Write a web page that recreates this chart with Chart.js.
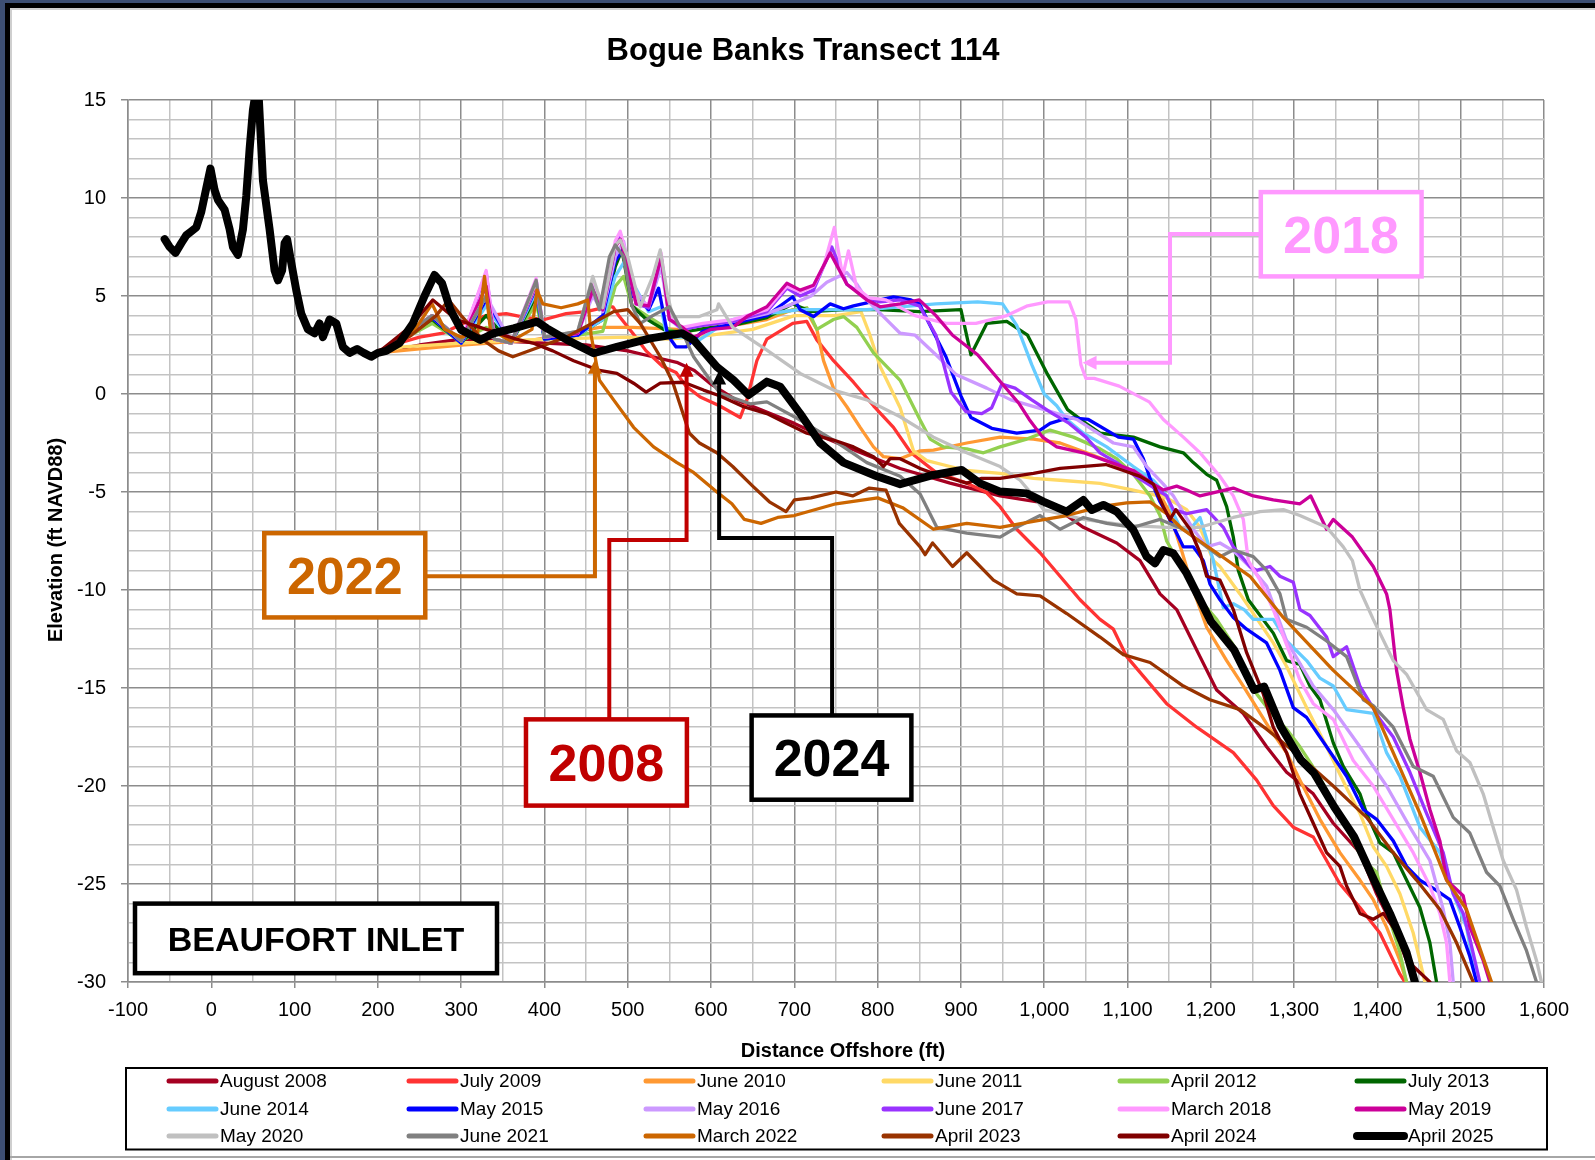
<!DOCTYPE html>
<html>
<head>
<meta charset="utf-8">
<title>Bogue Banks Transect 114</title>
<script src="https://cdn.jsdelivr.net/npm/chart.js@4.4.1/dist/chart.umd.min.js"></script>
<style>
  html, body { margin: 0; padding: 0; background: #fff; }
  #wrap { position: relative; width: 1595px; height: 1160px; overflow: hidden; background: #fff; }
  #wrap canvas { position: absolute; left: 0; top: 0; }
  .edge { position: absolute; }
</style>
</head>
<body>
<div id="wrap">
  <canvas id="profile" width="1595" height="1160"></canvas>
  <div class="edge" style="left:0;top:0;width:1595px;height:3px;background:#3d4f73"></div>
  <div class="edge" style="left:0;top:0;width:5px;height:1160px;background:#3d4f73"></div>
  <div class="edge" style="left:5px;top:3px;width:1590px;height:5px;background:#000"></div>
  <div class="edge" style="left:5px;top:3px;width:5px;height:1157px;background:#000"></div>
  <div class="edge" style="left:10px;top:8px;width:1585px;height:2px;background:#cfcfcf"></div>
  <div class="edge" style="left:10px;top:8px;width:2px;height:1152px;background:#cfcfcf"></div>
  <div class="edge" style="left:10px;top:1156px;width:1585px;height:2px;background:#a6a6a6"></div>
</div>
<script>
// Survey legend names and line colours
const surveyNames = ['August 2008', 'July 2009', 'June 2010', 'June 2011', 'April 2012', 'July 2013',
  'June 2014', 'May 2015', 'May 2016', 'June 2017', 'March 2018', 'May 2019',
  'May 2020', 'June 2021', 'March 2022', 'April 2023', 'April 2024', 'April 2025'];
const surveyColors = ['#A50021', '#FF3333', '#FF9933', '#FFD966', '#92D050', '#006600',
  '#66CCFF', '#0000FF', '#CC99FF', '#9933FF', '#FF99FF', '#CC0099',
  '#C0C0C0', '#808080', '#CC6600', '#993300', '#800000', '#000000'];

// Landward dune section, identical in every survey: [distance ft, elevation ft]
const dune = [[-56,7.9],[-50,7.5],[-43,7.2],[-36,7.7],[-30,8.1],[-24,8.3],[-18,8.5],[-12,9.3],[-6,10.5],[-1,11.5],
  [4,10.4],[8,9.9],[16,9.4],[22,8.4],[26,7.5],[32,7.1],[38,8.4],[42,10.1],[46,12.5],[50,14.5],[53,15.3],[57,15.1],
  [62,10.9],[70,8.4],[76,6.3],[80,5.8],[85,6.3],[88,7.7],[91,7.9],[96,6.7],[102,5.3],[108,4.1],[116,3.3],[124,3.1],
  [130,3.6],[134,2.9],[142,3.8],[150,3.6],[158,2.4],[166,2.1],[175,2.3],[183,2.1],[192,1.9]];

// Seaward part of each survey
const aug2008 = [[200,2.1],[250,2.5],[300,2.8],[350,2.7],[400,2.6],[450,2.5],[500,2.2],[530,1.9],[560,1.6],[580,1.2],
  [600,0.5],[630,-0.3],[660,-0.8],[700,-1.5],[740,-2.3],[780,-3.0],[827,-3.8],[887,-4.55],[947,-5.2],[1007,-5.6],
  [1047,-6.8],[1087,-7.6],[1115,-8.5],[1139,-10.2],[1159,-11],[1187,-13.4],[1207,-15.1],[1239,-16.3],[1267,-18],
  [1291,-19.3],[1323,-20.4],[1347,-21.9],[1379,-23.4],[1399,-25.5],[1419,-27.2],[1435,-28.9],[1447,-30]];
const jul2009 = [[200,2.2],[226,2.6],[250,2.9],[278,3.1],[302,3.6],[330,4.0],[354,4.1],[378,3.9],[400,3.8],[426,4.1],
  [450,4.2],[475,4.45],[482,4.45],[490,3.95],[506,3.1],[522,2.2],[542,1.4],[558,1.1],[570,0.4],[587,-0.15],[610,-0.6],
  [635,-1.2],[643,-0.3],[655,1.7],[667,2.8],[698,3.6],[715,3.7],[727,2.76],[747,1.7],[771,0.6],[795,-0.6],[819,-1.7],
  [840,-3.0],[870,-4.0],[907,-4.55],[930,-5.0],[947,-5.75],[967,-6.9],[995,-8.1],[1019,-9.3],[1043,-10.5],[1067,-11.5],
  [1083,-12],[1099,-13.4],[1147,-15.8],[1183,-17],[1227,-18.3],[1255,-19.7],[1275,-21],[1299,-22.1],[1323,-22.6],
  [1355,-25],[1379,-26.2],[1403,-27.5],[1427,-29.6],[1433,-30]];
const jun2010 = [[200,2.1],[250,2.3],[300,2.5],[386,2.75],[466,3.4],[506,3.4],[560,3.3],[626,3.5],[667,3.8],[698,4.3],
  [715,4.2],[727,3.3],[735,1.7],[747,0.3],[763,-0.65],[779,-1.7],[795,-2.7],[807,-3.2],[827,-3.3],[851,-2.9],[867,-2.86],
  [907,-2.5],[947,-2.2],[987,-2.3],[1019,-2.5],[1051,-3.0],[1075,-3.4],[1107,-4.05],[1131,-4.5],[1150,-6.0],[1165,-8.0],
  [1179,-10],[1195,-11.9],[1219,-13.6],[1239,-14.9],[1255,-16],[1271,-17.1],[1291,-18.3],[1307,-19.7],[1331,-21.7],
  [1355,-23.4],[1379,-24.8],[1395,-25.8],[1411,-27.2],[1427,-28.9],[1435,-30]];
const jun2011 = [[200,2.1],[230,2.4],[300,2.6],[400,2.8],[500,2.9],[550,2.8],[600,3.0],[650,3.3],[700,4.0],[750,4.0],
  [780,4.2],[790,3.1],[803,1.4],[819,0.0],[827,-0.7],[843,-2.9],[859,-3.4],[887,-3.7],[907,-3.9],[947,-4.05],[987,-4.3],
  [1019,-4.4],[1067,-4.56],[1107,-4.9],[1127,-5.1],[1147,-5.3],[1171,-5.9],[1187,-6.8],[1203,-8.5],[1211,-8.8],[1235,-10.2],
  [1275,-12.7],[1291,-13.9],[1315,-16.0],[1339,-18.0],[1363,-20.1],[1379,-21.4],[1395,-23.1],[1411,-24.1],[1427,-25.5],
  [1443,-27.5],[1451,-28.9],[1457,-30]];
const apr2012 = [[200,2.1],[265,3.6],[300,2.7],[330,3.4],[360,2.7],[390,4.6],[400,2.9],[440,3.0],[470,3.2],[485,5.5],
  [495,6.0],[505,4.5],[530,3.8],[545,3.4],[560,3.1],[600,3.4],[650,3.8],[700,4.3],[715,4.4],[727,3.3],[747,3.8],[759,3.95],
  [775,3.4],[795,2.1],[811,1.4],[827,0.7],[851,-1.33],[863,-2.3],[879,-2.7],[907,-2.8],[927,-3.0],[947,-2.7],[979,-2.3],
  [1007,-1.84],[1035,-2.2],[1067,-2.8],[1087,-3.3],[1107,-4.1],[1127,-5.2],[1139,-6.2],[1147,-7.5],[1163,-8.7],[1175,-9.5],
  [1187,-10.5],[1207,-11.5],[1230,-13],[1255,-15.3],[1275,-16.4],[1291,-17.1],[1307,-18.0],[1330,-19.5],[1355,-21.5],
  [1383,-23.8],[1399,-24.4],[1411,-26.3],[1427,-28.5],[1435,-30]];
const jul2013 = [[200,2.1],[265,3.8],[300,2.6],[330,4.0],[360,2.6],[390,5.0],[400,2.8],[440,3.0],[470,3.8],[485,6.5],
  [493,7.35],[505,4.5],[520,3.9],[531,3.6],[547,3.2],[570,3.2],[600,3.4],[626,3.5],[667,3.9],[698,4.6],[720,4.2],[760,4.3],
  [800,4.3],[850,4.2],[900,4.3],[912,2.0],[931,3.6],[955,3.7],[980,3.0],[1004,1.0],[1028,-0.8],[1050,-1.5],[1067,-2.0],
  [1107,-2.2],[1139,-2.7],[1167,-3.0],[1179,-3.5],[1195,-4.1],[1207,-4.4],[1219,-5.75],[1227,-7.3],[1233,-9.0],[1245,-10.5],
  [1275,-12.2],[1291,-13.6],[1307,-13.8],[1319,-14.9],[1331,-15.6],[1347,-17.8],[1359,-19.0],[1379,-20.4],[1387,-21.4],
  [1403,-22.9],[1419,-23.4],[1435,-24.8],[1451,-26.2],[1463,-28.0],[1471,-30]];
const jun2014 = [[200,2.1],[265,3.9],[300,2.6],[330,4.5],[360,2.6],[390,5.2],[400,2.8],[440,3.0],[470,3.8],[485,6.0],
  [498,6.9],[507,5.6],[525,4.2],[540,4.45],[547,2.9],[570,2.9],[586,2.76],[605,3.3],[626,3.8],[667,4.1],[707,4.3],[747,4.3],
  [787,4.3],[827,4.45],[870,4.6],[920,4.7],[950,4.6],[967,3.5],[985,1.5],[1000,0.0],[1015,-0.6],[1027,-1.3],[1047,-2.0],
  [1075,-2.7],[1107,-3.7],[1131,-4.4],[1147,-5.2],[1155,-6.1],[1163,-6.8],[1175,-6.9],[1187,-6.3],[1203,-8.5],[1215,-10.9],
  [1227,-10.7],[1240,-11.0],[1251,-11.5],[1275,-11.5],[1291,-12.6],[1315,-13.6],[1331,-14.5],[1347,-14.9],[1363,-16.1],
  [1395,-16.3],[1411,-18.3],[1427,-19.5],[1451,-22.1],[1475,-23.4],[1491,-25.5],[1507,-27.2],[1519,-30]];
const may2015 = [[200,2.1],[265,3.9],[300,2.6],[330,4.8],[360,2.6],[390,5.4],[400,2.8],[440,3.0],[470,4.0],[485,6.8],
  [495,7.4],[505,5.0],[515,4.8],[525,4.3],[537,5.4],[548,3.0],[558,2.4],[570,2.4],[590,3.2],[626,3.6],[667,4.0],[698,4.96],
  [707,4.3],[723,3.95],[743,4.6],[759,4.35],[771,4.5],[803,4.8],[819,4.96],[840,4.8],[850,4.6],[863,3.5],[882,1.9],
  [900,-0.1],[912,-1.2],[937,-1.75],[967,-2.0],[995,-1.84],[1007,-1.5],[1030,-1.2],[1053,-1.3],[1089,-2.2],[1107,-2.3],
  [1119,-3.3],[1127,-4.3],[1139,-5.5],[1147,-6.1],[1159,-7.1],[1167,-7.8],[1179,-7.8],[1191,-8.5],[1199,-9.7],[1211,-10.5],
  [1227,-11.4],[1243,-12],[1267,-12.7],[1283,-14.1],[1299,-16.0],[1315,-16.5],[1339,-18],[1363,-19.5],[1383,-21.2],
  [1399,-21.7],[1419,-22.8],[1435,-24.1],[1451,-24.8],[1470,-25.3],[1487,-25.8],[1499,-27.2],[1511,-28.7],[1519,-30]];
const may2016 = [[200,2.1],[265,4.0],[300,2.7],[330,5.0],[360,2.6],[390,5.5],[400,2.9],[440,3.1],[458,5.0],[470,4.2],
  [485,7.0],[495,7.8],[505,5.5],[525,4.4],[540,6.5],[550,3.8],[565,3.3],[590,3.5],[626,3.7],[667,4.1],[698,4.6],[720,5.0],
  [739,5.7],[763,6.2],[775,5.6],[787,4.8],[807,3.95],[827,3.1],[845,3.0],[870,2.0],[894,1.0],[931,0.3],[960,-0.3],
  [1000,-0.8],[1039,-1.3],[1083,-2.5],[1107,-2.7],[1123,-3.7],[1143,-4.6],[1155,-5.2],[1179,-6.9],[1195,-7.8],[1211,-7.6],
  [1227,-8.0],[1251,-9.0],[1267,-9.8],[1291,-12.6],[1323,-14.9],[1347,-16.1],[1379,-18],[1411,-20],[1439,-22.1],
  [1463,-23.8],[1479,-26.3],[1487,-28],[1491,-30]];
const jun2017 = [[200,2.1],[265,4.0],[300,2.7],[330,6.2],[340,2.8],[360,2.6],[390,5.8],[400,2.9],[440,3.1],[458,5.5],
  [470,4.3],[485,7.5],[491,8.2],[500,6.5],[510,4.6],[525,4.4],[540,7.0],[550,3.9],[565,3.3],[590,3.5],[626,3.7],[667,4.2],
  [691,5.4],[707,5.0],[723,5.3],[745,7.5],[763,5.6],[787,4.9],[803,4.7],[827,4.8],[850,4.5],[870,3.0],[888,0.1],
  [906,-0.9],[925,-1.0],[937,-0.7],[949,0.5],[965,0.3],[985,-0.3],[1010,-1.0],[1030,-1.5],[1050,-2.2],[1067,-3.0],
  [1087,-3.5],[1110,-4.2],[1147,-5.2],[1155,-5.9],[1171,-6.1],[1195,-5.9],[1215,-6.8],[1227,-7.8],[1247,-8.8],[1255,-9.0],
  [1271,-8.8],[1283,-9.3],[1299,-9.6],[1307,-11],[1319,-11.3],[1339,-12.4],[1347,-13.4],[1363,-12.9],[1379,-14.9],
  [1403,-16.6],[1419,-17.5],[1439,-19.3],[1459,-21.4],[1479,-23.4],[1491,-25.5],[1503,-26.5],[1511,-27.8],[1523,-30]];
const mar2018 = [[200,2.1],[265,4.0],[300,2.7],[330,6.3],[340,2.8],[360,2.6],[390,5.9],[400,2.9],[440,3.1],[458,5.8],
  [470,4.5],[485,7.8],[491,8.3],[500,6.8],[510,4.6],[525,4.6],[540,7.2],[550,4.0],[565,3.4],[590,3.6],[626,3.8],[667,4.3],
  [691,5.5],[707,5.2],[723,5.5],[735,6.5],[748,8.5],[758,6.0],[765,7.3],[775,5.4],[790,4.9],[810,4.8],[845,4.0],
  [882,3.6],[918,3.6],[955,4.0],[980,4.5],[1004,4.7],[1030,4.7],[1038,3.8],[1044,1.5],[1050,0.8],[1060,0.8],[1090,0.4],
  [1126,-0.4],[1143,-1.3],[1167,-2.2],[1187,-3.0],[1211,-4.2],[1227,-5.2],[1239,-6.4],[1245,-8.5],[1259,-9.5],[1275,-11],
  [1291,-12.8],[1307,-14.6],[1323,-15.8],[1347,-16.6],[1371,-18.7],[1395,-20],[1419,-21.7],[1443,-23.4],[1463,-25.1],
  [1475,-26.5],[1483,-28],[1487,-30]];
const may2019 = [[200,2.1],[265,4.0],[300,2.7],[330,5.5],[340,2.8],[360,2.6],[390,5.6],[400,2.9],[440,3.1],[458,5.3],
  [470,4.3],[485,7.5],[491,7.9],[500,6.5],[510,4.6],[525,4.5],[540,7.0],[550,3.8],[566,3.4],[579,2.9],[600,3.3],[626,3.4],
  [643,3.95],[667,4.45],[691,5.65],[707,5.3],[723,5.55],[743,7.2],[763,5.6],[787,4.8],[803,4.45],[827,4.6],[850,4.8],
  [870,4.0],[890,3.0],[920,2.0],[950,0.5],[970,-0.5],[982,-1.3],[998,-2.2],[1015,-2.7],[1047,-3.0],[1074,-3.4],[1107,-3.9],
  [1131,-4.6],[1143,-4.9],[1159,-4.7],[1171,-4.9],[1187,-5.2],[1227,-4.8],[1251,-5.2],[1275,-5.4],[1307,-5.6],[1320,-5.2],
  [1339,-6.9],[1347,-6.4],[1370,-7.3],[1395,-8.8],[1411,-10.2],[1415,-11],[1423,-14.1],[1431,-16],[1439,-17.6],[1451,-19.3],
  [1463,-21.2],[1475,-22.8],[1483,-24.8],[1503,-25.6],[1511,-27.2],[1527,-28.9],[1535,-30]];
const may2020 = [[200,2.1],[265,4.0],[300,2.7],[330,5.0],[340,2.8],[360,2.6],[390,5.7],[400,2.9],[440,3.2],[458,6.0],
  [470,4.4],[485,7.6],[491,7.86],[500,7.0],[515,4.45],[530,6.0],[539,7.35],[548,5.0],[554,3.95],[586,3.95],[607,4.3],
  [609,4.6],[626,3.4],[667,2.24],[707,1.05],[747,0.2],[787,-0.3],[827,-1.16],[867,-2.2],[907,-3.0],[947,-3.7],[971,-4.4],
  [987,-5.2],[999,-5.9],[1047,-6.4],[1100,-6.7],[1147,-6.8],[1187,-6.8],[1227,-6.3],[1259,-6.0],[1287,-5.9],[1307,-6.2],
  [1339,-6.8],[1359,-7.8],[1370,-8.5],[1379,-10],[1395,-11.5],[1419,-13.6],[1435,-14.3],[1459,-16.1],[1479,-16.6],
  [1495,-18.2],[1511,-18.8],[1527,-20.4],[1539,-22.1],[1551,-23.8],[1567,-25.3],[1579,-27.2],[1591,-28.9],[1597,-30]];
const jun2021 = [[200,2.1],[265,4.0],[300,2.7],[330,5.0],[340,2.8],[360,2.6],[390,5.8],[400,2.9],[440,3.2],[456,5.6],
  [466,4.3],[478,7.0],[485,7.6],[495,7.0],[505,4.5],[515,3.6],[530,4.0],[550,4.45],[563,3.4],[579,1.9],[599,0.7],[611,0.03],
  [647,-0.5],[667,-0.4],[707,-1.33],[747,-2.35],[787,-3.5],[827,-4.2],[851,-5.1],[871,-6.8],[907,-7.1],[947,-7.3],
  [967,-6.8],[995,-6.2],[1019,-6.9],[1047,-6.3],[1075,-6.6],[1107,-6.8],[1139,-6.4],[1167,-6.9],[1195,-7.8],[1211,-8.3],
  [1227,-7.96],[1251,-8.3],[1267,-9.0],[1283,-10.2],[1291,-11.5],[1315,-11.9],[1339,-12.6],[1363,-13.4],[1383,-15.6],
  [1395,-15.9],[1419,-17],[1443,-19],[1467,-19.5],[1491,-21.6],[1511,-22.4],[1531,-24.4],[1547,-25.1],[1563,-26.8],
  [1579,-28.4],[1591,-30]];
const mar2022 = [[200,2.1],[240,3.0],[265,4.6],[280,3.3],[300,2.9],[320,3.2],[328,6.0],[335,3.3],[360,2.7],[385,3.3],
  [391,5.3],[398,4.6],[420,4.4],[440,4.6],[452,4.8],[456,3.0],[466,0.7],[483,-0.3],[507,-1.7],[531,-2.7],[559,-3.5],
  [579,-4.0],[607,-5.0],[625,-5.6],[640,-6.4],[660,-6.6],[680,-6.3],[700,-6.2],[750,-5.6],[800,-5.3],[830,-5.8],[867,-6.9],
  [907,-6.6],[947,-6.8],[987,-6.5],[1027,-6.2],[1067,-5.75],[1099,-5.55],[1127,-5.5],[1147,-6.1],[1166,-6.9],[1207,-8.1],
  [1247,-9.3],[1287,-11.4],[1347,-14.1],[1395,-16],[1419,-18.3],[1451,-21.4],[1483,-24.8],[1507,-26.3],[1537,-30]];
const apr2023 = [[200,2.1],[240,3.0],[270,4.0],[285,4.8],[300,4.0],[326,2.76],[345,2.2],[362,1.9],[394,2.4],[426,2.9],
  [466,3.8],[483,4.2],[500,4.3],[515,3.6],[539,1.9],[554,0.6],[574,-2.0],[586,-2.5],[607,-3.0],[626,-3.7],[650,-4.7],
  [670,-5.5],[690,-6.0],[700,-5.4],[720,-5.3],[750,-5.0],[770,-5.2],[790,-4.8],[810,-4.9],[826,-6.6],[851,-7.8],[857,-8.2],
  [866,-7.6],[890,-8.8],[907,-8.1],[939,-9.5],[967,-10.2],[995,-10.3],[1027,-11.2],[1067,-12.4],[1095,-13.3],[1127,-13.7],
  [1167,-14.9],[1199,-15.6],[1235,-16.1],[1267,-17.1],[1307,-18.5],[1347,-20],[1387,-21.6],[1419,-23.4],[1447,-24.8],
  [1475,-26.3],[1495,-28],[1515,-30]];
const apr2024 = [[200,2.1],[238,3.4],[266,4.8],[294,3.8],[330,3.3],[366,2.8],[386,2.6],[410,2.2],[435,1.7],[466,1.2],
  [487,1.05],[507,0.55],[522,0.1],[539,0.55],[567,0.6],[591,0.2],[611,-0.1],[639,-0.65],[667,-1.0],[691,-1.5],[715,-2.0],
  [747,-2.35],[771,-2.7],[795,-3.2],[807,-3.7],[815,-3.3],[827,-3.3],[851,-3.8],[870,-4.1],[887,-4.3],[907,-4.55],
  [925,-4.3],[947,-4.3],[987,-4.05],[1019,-3.8],[1045,-3.7],[1074,-3.6],[1095,-3.9],[1115,-4.2],[1131,-4.6],[1143,-5.75],
  [1151,-6.4],[1158,-5.9],[1175,-6.9],[1187,-8.1],[1195,-9.3],[1211,-9.5],[1227,-11],[1243,-13.2],[1263,-15.3],[1275,-17],
  [1291,-18.3],[1307,-20.4],[1323,-21.9],[1339,-23.4],[1355,-24.1],[1363,-25.1],[1379,-26.5],[1395,-26.8],[1407,-26.5],
  [1427,-27.7],[1443,-29.2],[1463,-30]];
const apr2025 = [[200,2.1],[210,2.2],[226,2.6],[242,3.6],[256,5.0],[268,6.07],[277,5.65],[287,4.3],[300,3.27],[323,2.76],
  [339,3.1],[363,3.35],[391,3.69],[403,3.35],[427,2.76],[459,2.08],[487,2.41],[527,2.84],[565,3.1],[579,2.76],[607,1.39],
  [627,0.71],[645,-0.05],[667,0.63],[683,0.37],[707,-1.0],[731,-2.5],[759,-3.5],[799,-4.2],[827,-4.6],[867,-4.13],
  [901,-3.88],[923,-4.56],[947,-4.98],[979,-5.07],[999,-5.49],[1027,-6.0],[1047,-5.41],[1057,-5.92],[1071,-5.66],
  [1087,-6.0],[1107,-6.94],[1123,-8.3],[1133,-8.64],[1143,-7.96],[1155,-8.13],[1171,-9.15],[1187,-10.5],[1200,-11.6],
  [1228,-13.06],[1252,-15.1],[1264,-14.93],[1284,-16.97],[1308,-18.67],[1324,-19.35],[1348,-21.06],[1372,-22.59],
  [1396,-24.8],[1415,-26.5],[1435,-28.5],[1445,-30]];

const surveys = [aug2008, jul2009, jun2010, jun2011, apr2012, jul2013, jun2014, may2015, may2016,
  jun2017, mar2018, may2019, may2020, jun2021, mar2022, apr2023, apr2024, apr2025];

// Axis ranges and tick spacing
const xRange = [-100, 1600];
const yRange = [-30, 15];
const xLabelEvery = 100;
const yLabelEvery = 5;

// Year callouts: box corners and leader path given in chart units (ft, ft NAVD88)
const callouts = [
  { text: '2018', color: '#FF99FF', box: [1260, 10.3, 1453, 6.0], leader: [[1260, 8.16], [1151, 8.16], [1151, 1.6], [1046, 1.6]] },
  { text: '2022', color: '#CC6600', box: [63.6, -7.1, 256.9, -11.4], leader: [[256.9, -9.3], [460.6, -9.3], [460.6, 1.75]] },
  { text: '2008', color: '#C00000', box: [377.8, -16.6, 571, -21.0], leader: [[477.8, -16.6], [477.8, -7.45], [570.6, -7.45], [570.6, 1.6]] },
  { text: '2024', color: '#000000', box: [648.7, -16.4, 840.5, -20.7], leader: [[745.3, -16.4], [745.3, -7.35], [609.7, -7.35], [609.7, 1.2]] }
];
const siteLabel = { text: 'BEAUFORT INLET', box: [-91.6, -26.0, 343, -29.55] };

const GRID_MAJOR = '#8c8c8c';
const GRID_MINOR = '#c3c3c3';
const FONT = '"Liberation Sans", Arial, sans-serif';

// Later surveys are painted over earlier ones; the newest survey sits on top.
const datasets = surveys.map((s, i) => ({
  label: surveyNames[i],
  data: dune.concat(s).map(([x, y]) => ({ x, y })),
  borderColor: surveyColors[i],
  backgroundColor: surveyColors[i],
  borderWidth: i === surveys.length - 1 ? 8 : 3.3,
  order: surveys.length - i,
  pointRadius: 0,
  tension: 0,
  borderJoinStyle: 'round',
  borderCapStyle: 'round',
  clip: 0
}));

function strokePath(ctx, pts) {
  ctx.beginPath();
  pts.forEach(([a, b], i) => (i ? ctx.lineTo(a, b) : ctx.moveTo(a, b)));
  ctx.stroke();
}

const decorations = {
  id: 'decorations',
  afterDatasetsDraw(chart) {
    const { ctx, scales: { x, y } } = chart;
    const px = v => x.getPixelForValue(v);
    const py = v => y.getPixelForValue(v);
    ctx.save();
    ctx.lineCap = 'butt';
    ctx.lineJoin = 'miter';
    callouts.forEach(c => {
      const pts = c.leader.map(([a, b]) => [px(a), py(b)]);
      const n = pts.length;
      const [tx, ty] = pts[n - 1];
      const [fx, fy] = pts[n - 2];
      const len = Math.hypot(tx - fx, ty - fy);
      const ux = (tx - fx) / len, uy = (ty - fy) / len;
      const head = 14, half = 7;
      const linePts = pts.slice(0, n - 1).concat([[tx - ux * head * 0.8, ty - uy * head * 0.8]]);
      ctx.strokeStyle = c.color;
      ctx.lineWidth = 4;
      strokePath(ctx, linePts);
      ctx.fillStyle = c.color;
      ctx.beginPath();
      ctx.moveTo(tx, ty);
      ctx.lineTo(tx - ux * head - uy * half, ty - uy * head + ux * half);
      ctx.lineTo(tx - ux * head + uy * half, ty - uy * head - ux * half);
      ctx.closePath();
      ctx.fill();
      const x1 = px(c.box[0]), y1 = py(c.box[1]), x2 = px(c.box[2]), y2 = py(c.box[3]);
      ctx.fillStyle = '#fff';
      ctx.fillRect(x1, y1, x2 - x1, y2 - y1);
      ctx.lineWidth = 4.5;
      ctx.strokeRect(x1, y1, x2 - x1, y2 - y1);
      ctx.fillStyle = c.color;
      ctx.font = 'bold 52px ' + FONT;
      ctx.textAlign = 'center';
      ctx.textBaseline = 'alphabetic';
      ctx.fillText(c.text, (x1 + x2) / 2, (y1 + y2) / 2 + 52 * 0.716 / 2);
    });
    // site name box
    const b = siteLabel.box;
    const sx1 = px(b[0]), sy1 = py(b[1]), sx2 = px(b[2]), sy2 = py(b[3]);
    ctx.fillStyle = '#fff';
    ctx.fillRect(sx1, sy1, sx2 - sx1, sy2 - sy1);
    ctx.strokeStyle = '#000';
    ctx.lineWidth = 4.5;
    ctx.strokeRect(sx1, sy1, sx2 - sx1, sy2 - sy1);
    ctx.fillStyle = '#000';
    ctx.font = 'bold 34px ' + FONT;
    ctx.textAlign = 'center';
    ctx.fillText(siteLabel.text, (sx1 + sx2) / 2, (sy1 + sy2) / 2 + 34 * 0.716 / 2);
    ctx.restore();
  },
  afterDraw(chart) {
    const { ctx } = chart;
    ctx.save();
    ctx.fillStyle = '#000';
    ctx.textAlign = 'center';
    ctx.textBaseline = 'middle';
    ctx.font = 'bold 31px ' + FONT;
    ctx.fillText('Bogue Banks Transect 114', 803, 51);
    ctx.font = 'bold 20px ' + FONT;
    ctx.fillText('Distance Offshore (ft)', 843, 1051);
    ctx.save();
    ctx.translate(56, 540);
    ctx.rotate(-Math.PI / 2);
    ctx.fillText('Elevation (ft NAVD88)', 0, 0);
    ctx.restore();

    // legend: 3 rows x 6 columns
    const cols = [166, 406, 643, 881, 1117, 1354];
    const rows = [1081, 1109, 1136];
    ctx.strokeStyle = '#000';
    ctx.lineWidth = 2;
    ctx.strokeRect(126, 1068, 1421, 81.5);
    ctx.font = '19px ' + FONT;
    ctx.textAlign = 'left';
    chart.data.datasets.forEach((ds, i) => {
      const cx = cols[i % 6], cy = rows[Math.floor(i / 6)];
      const last = i === chart.data.datasets.length - 1;
      ctx.strokeStyle = ds.borderColor;
      ctx.lineWidth = last ? 8 : 5;
      ctx.lineCap = 'round';
      strokePath(ctx, [[cx + 3, cy], [cx + 50, cy]]);
      ctx.fillStyle = '#000';
      ctx.fillText(ds.label, cx + 54, cy + 1);
    });
    ctx.restore();
  }
};

new Chart(document.getElementById('profile'), {
  type: 'line',
  data: { datasets },
  options: {
    responsive: false,
    animation: false,
    events: [],
    layout: { padding: { left: 0, right: 51, top: 100, bottom: 88 } },
    plugins: { legend: { display: false }, title: { display: false }, tooltip: { enabled: false } },
    scales: {
      x: {
        type: 'linear', min: xRange[0], max: xRange[1],
        afterFit(s) { s.height = 90; },
        ticks: {
          stepSize: 50, autoSkip: false, maxRotation: 0, minRotation: 0, padding: 10,
          color: '#000', font: { family: FONT, size: 20 },
          callback: v => (v % xLabelEvery === 0 ? v.toLocaleString('en-US') : '')
        },
        grid: {
          color: c => (c.tick && c.tick.value % xLabelEvery === 0 ? GRID_MAJOR : GRID_MINOR),
          lineWidth: 1.5, tickLength: 6,
          tickColor: c => (c.tick && c.tick.value % xLabelEvery === 0 ? GRID_MAJOR : 'rgba(0,0,0,0)')
        },
        border: { color: GRID_MAJOR, width: 1.5 }
      },
      y: {
        type: 'linear', min: yRange[0], max: yRange[1],
        afterFit(s) { s.width = 128; },
        ticks: {
          stepSize: 1, autoSkip: false, padding: 15,
          color: '#000', font: { family: FONT, size: 20 },
          callback: v => (v % yLabelEvery === 0 ? String(v) : '')
        },
        grid: {
          color: c => (c.tick && c.tick.value % yLabelEvery === 0 ? GRID_MAJOR : GRID_MINOR),
          lineWidth: 1.5, tickLength: 7,
          tickColor: c => (c.tick && c.tick.value % yLabelEvery === 0 ? GRID_MAJOR : 'rgba(0,0,0,0)')
        },
        border: { color: GRID_MAJOR, width: 1.5 }
      }
    }
  },
  plugins: [decorations]
});
</script>
</body>
</html>
